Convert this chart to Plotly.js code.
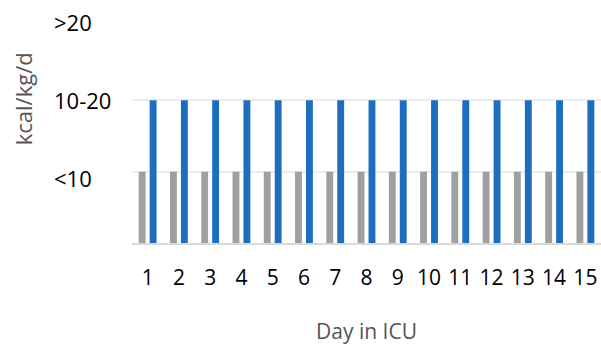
<!DOCTYPE html>
<html><head><meta charset="utf-8">
<script src="https://cdn.plot.ly/plotly-3.0.1.min.js"></script>
<style>body{margin:0;background:#fff}#c{width:601px;height:346px}</style>
</head><body><div id="c"></div>
<script>
const days = ['1','2','3','4','5','6','7','8','9','10','11','12','13','14','15'];
const grayValues = [1,1,1,1,1,1,1,1,1,1,1,1,1,1,1];
const blueValues = [2,2,2,2,2,2,2,2,2,2,2,2,2,2,2];
const yTickVals = [1,2,3];
const yTickText = ['<10','10-20','>20'];

const font = '"Open Sans", "Noto Sans", sans-serif';
const data = [
  {type:'bar', x:days, y:grayValues, marker:{color:'#A0A0A0'}, hoverinfo:'none'},
  {type:'bar', x:days, y:blueValues, marker:{color:'#1D6FBE'}, hoverinfo:'none'}
];
const annotations = yTickVals.map((v,i)=>({
  xref:'paper', yref:'y', x:-0.17, y:v, xanchor:'left', yanchor:'middle',
  yshift: i===2 ? 7 : (i===0 ? -6 : 0),
  text: yTickText[i], showarrow:false, font:{family:font, size:22, color:'#000'}
}));
annotations.push({xref:'paper', yref:'paper', x:-0.233, y:0.675, xanchor:'center', yanchor:'middle',
  text:'kcal/kg/d', textangle:-90, showarrow:false, font:{family:font, size:22, color:'#555'}});
const layout = {
  width:601, height:346,
  margin:{l:132, r:0, t:29, b:103},
  paper_bgcolor:'#fff', plot_bgcolor:'#fff',
  showlegend:false, barmode:'group', bargap:0.3, bargroupgap:0.37,
  font:{family:font},
  xaxis:{type:'category', showgrid:false, showline:true, linecolor:'#D9D9D9', linewidth:2,
    ticks:'outside', ticklen:15, tickcolor:'rgba(0,0,0,0)', tickfont:{family:font, size:21, color:'#000'},
    title:{text:'Day in ICU', font:{family:font, size:21, color:'#555'}, standoff:34}},
  yaxis:{range:[0,3], tickvals:yTickVals, showticklabels:false, showgrid:true, gridcolor:'#E9EDF3', gridwidth:2,
    zeroline:false, showline:false, fixedrange:true},
  annotations:annotations
};
Plotly.newPlot('c', data, layout, {staticPlot:true, displayModeBar:false});
</script></body></html>
